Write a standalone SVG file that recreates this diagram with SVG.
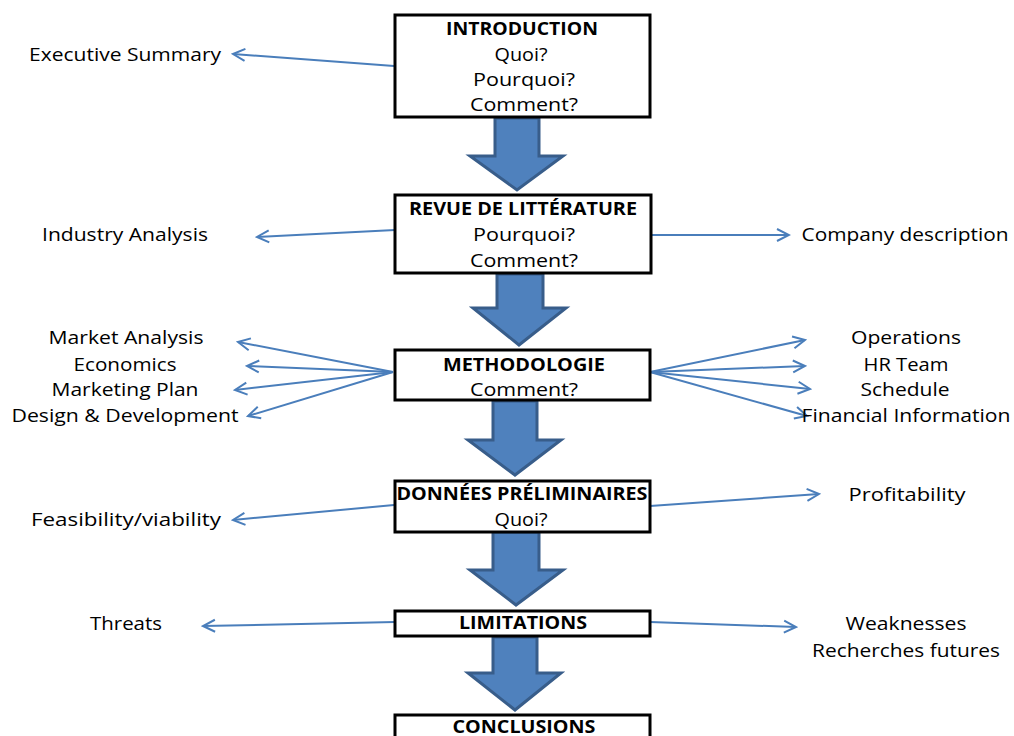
<svg xmlns="http://www.w3.org/2000/svg" width="1014" height="736" viewBox="0 0 1014 736">
  <style>
    .box { fill: #ffffff; stroke: #000000; stroke-width: 3; }
    .flow { fill: #4f81bd; stroke: #385d8a; stroke-width: 3; stroke-linejoin: miter; }
    .link { stroke: #4a7ebb; stroke-width: 2; fill: none; marker-end: url(#vhead); }
    text { font-family: "Open Sans", "DejaVu Sans", sans-serif; font-size: 18px; fill: #000000; text-anchor: middle; }
    .title { font-weight: bold; font-size: 17px; }
  </style>
  <defs>
    <marker id="vhead" viewBox="-14 -8 16 16" markerWidth="16" markerHeight="16" refX="0" refY="0" orient="auto" markerUnits="userSpaceOnUse">
      <path d="M-12,-6 L0,0 L-12,6" fill="none" stroke="#4a7ebb" stroke-width="2"/>
    </marker>
  </defs>

  <rect width="1014" height="736" fill="#ffffff"/>

  <!-- block arrows between stages -->
  <g id="flow-arrows">
    <polygon class="flow" points="495,118 539,118 539,156 563,156 517,190 470,156 495,156"/>
    <polygon class="flow" points="497,274 543,274 543,308 566,308 519,345 473,308 497,308"/>
    <polygon class="flow" points="493,401 537,401 537,440 561,440 515,475 468,440 493,440"/>
    <polygon class="flow" points="493,532 539,532 539,570 563,570 516,605 470,570 493,570"/>
    <polygon class="flow" points="493,637 537,637 537,673 561,673 515,710 468,673 493,673"/>
  </g>

  <!-- thin connectors to side topics -->
  <g id="connectors">
    <line class="link" x1="394" y1="66" x2="233" y2="54"/>
    <line class="link" x1="395" y1="230" x2="257" y2="237"/>
    <line class="link" x1="651" y1="235" x2="789" y2="235"/>
    <line class="link" x1="393" y1="372" x2="238" y2="342"/>
    <line class="link" x1="393" y1="372" x2="247" y2="366"/>
    <line class="link" x1="393" y1="372" x2="235" y2="390"/>
    <line class="link" x1="393" y1="372" x2="248" y2="416"/>
    <line class="link" x1="650" y1="372" x2="805" y2="340"/>
    <line class="link" x1="650" y1="372" x2="805" y2="366"/>
    <line class="link" x1="650" y1="372" x2="810" y2="389"/>
    <line class="link" x1="650" y1="372" x2="807" y2="416"/>
    <line class="link" x1="394" y1="505" x2="233" y2="520"/>
    <line class="link" x1="650" y1="506" x2="819" y2="494"/>
    <line class="link" x1="395" y1="622" x2="203" y2="626"/>
    <line class="link" x1="650" y1="622" x2="796" y2="627"/>
  </g>

  <g id="introduction">
    <rect class="box" x="395" y="15" width="255" height="102"/>
    <text class="title" x="522" y="35" textLength="152" lengthAdjust="spacingAndGlyphs">INTRODUCTION</text>
    <text x="521" y="61" textLength="53" lengthAdjust="spacingAndGlyphs">Quoi?</text>
    <text x="524" y="86" textLength="102" lengthAdjust="spacingAndGlyphs">Pourquoi?</text>
    <text x="524" y="111" textLength="108" lengthAdjust="spacingAndGlyphs">Comment?</text>
  </g>

  <g id="revue">
    <rect class="box" x="395" y="195" width="256" height="78"/>
    <text class="title" x="523" y="215" textLength="228" lengthAdjust="spacingAndGlyphs">REVUE DE LITTÉRATURE</text>
    <text x="524" y="241" textLength="102" lengthAdjust="spacingAndGlyphs">Pourquoi?</text>
    <text x="524" y="267" textLength="108" lengthAdjust="spacingAndGlyphs">Comment?</text>
  </g>

  <g id="methodologie">
    <rect class="box" x="395" y="350" width="255" height="50"/>
    <text class="title" x="524" y="371" textLength="162" lengthAdjust="spacingAndGlyphs">METHODOLOGIE</text>
    <text x="524" y="396" textLength="108" lengthAdjust="spacingAndGlyphs">Comment?</text>
  </g>

  <g id="donnees">
    <rect class="box" x="395" y="481" width="255" height="51"/>
    <text class="title" x="522" y="500" textLength="251" lengthAdjust="spacingAndGlyphs">DONNÉES PRÉLIMINAIRES</text>
    <text x="521" y="526" textLength="53" lengthAdjust="spacingAndGlyphs">Quoi?</text>
  </g>

  <g id="limitations">
    <rect class="box" x="395" y="611" width="255" height="25"/>
    <text class="title" x="523" y="629" textLength="128" lengthAdjust="spacingAndGlyphs">LIMITATIONS</text>
  </g>

  <g id="conclusions">
    <rect class="box" x="395" y="715" width="255" height="30"/>
    <text class="title" x="524" y="733" textLength="143" lengthAdjust="spacingAndGlyphs">CONCLUSIONS</text>
  </g>

  <!-- side topic labels -->
  <g id="labels">
    <text x="125" y="61" textLength="192" lengthAdjust="spacingAndGlyphs">Executive Summary</text>
    <text x="125" y="241" textLength="166" lengthAdjust="spacingAndGlyphs">Industry Analysis</text>
    <text x="905" y="241" textLength="207" lengthAdjust="spacingAndGlyphs">Company description</text>
    <text x="126" y="344" textLength="155" lengthAdjust="spacingAndGlyphs">Market Analysis</text>
    <text x="125" y="371" textLength="103" lengthAdjust="spacingAndGlyphs">Economics</text>
    <text x="125" y="396" textLength="147" lengthAdjust="spacingAndGlyphs">Marketing Plan</text>
    <text x="125" y="422" textLength="227" lengthAdjust="spacingAndGlyphs">Design &amp; Development</text>
    <text x="906" y="344" textLength="110" lengthAdjust="spacingAndGlyphs">Operations</text>
    <text x="906" y="371" textLength="85" lengthAdjust="spacingAndGlyphs">HR Team</text>
    <text x="905" y="396" textLength="89" lengthAdjust="spacingAndGlyphs">Schedule</text>
    <text x="906" y="422" textLength="209" lengthAdjust="spacingAndGlyphs">Financial Information</text>
    <text x="126" y="526" textLength="190" lengthAdjust="spacingAndGlyphs">Feasibility/viability</text>
    <text x="907" y="501" textLength="117" lengthAdjust="spacingAndGlyphs">Profitability</text>
    <text x="126" y="630" textLength="72" lengthAdjust="spacingAndGlyphs">Threats</text>
    <text x="906" y="630" textLength="121" lengthAdjust="spacingAndGlyphs">Weaknesses</text>
    <text x="906" y="657" textLength="188" lengthAdjust="spacingAndGlyphs">Recherches futures</text>
  </g>
</svg>
